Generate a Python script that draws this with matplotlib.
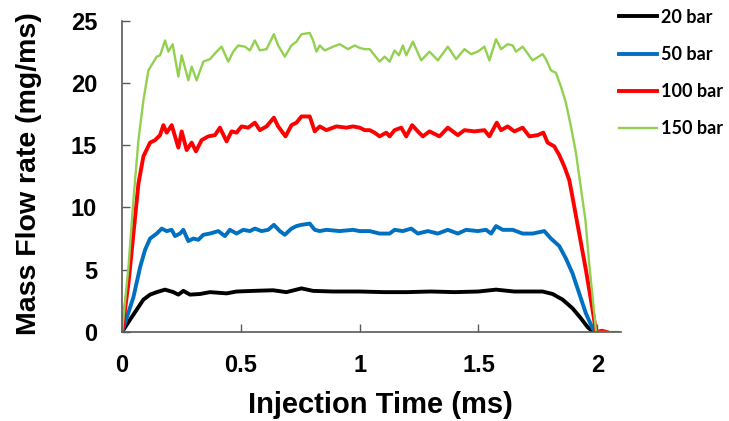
import matplotlib
matplotlib.use("Agg")
import matplotlib.pyplot as plt

# values (time in ms, mass flow rate in mg/ms)
t_20 = [0.0, 0.034, 0.062, 0.09, 0.118, 0.146, 0.181, 0.216, 0.237, 0.258, 0.286, 0.328,
        0.37, 0.44, 0.482, 0.552, 0.636, 0.692, 0.755, 0.804, 0.888, 1.0, 1.1, 1.2, 1.3,
        1.4, 1.5, 1.574, 1.65, 1.77, 1.812, 1.854, 1.896, 1.931, 1.959, 1.98, 1.995]
q_20 = [0.0, 1.0, 1.8, 2.6, 3.0, 3.2, 3.4, 3.2, 3.0, 3.3, 3.0, 3.05,
        3.2, 3.1, 3.25, 3.3, 3.35, 3.2, 3.5, 3.3, 3.25, 3.25, 3.2, 3.2, 3.25,
        3.2, 3.25, 3.4, 3.25, 3.25, 3.05, 2.6, 1.9, 1.1, 0.4, 0.05, 0.0]

t_50 = [0.0, 0.048, 0.076, 0.097, 0.118, 0.146, 0.167, 0.188, 0.209, 0.223, 0.244, 0.258,
        0.279, 0.3, 0.321, 0.342, 0.37, 0.405, 0.433, 0.454, 0.482, 0.51, 0.538, 0.559,
        0.587, 0.615, 0.639, 0.664, 0.685, 0.713, 0.734, 0.755, 0.79, 0.811, 0.832, 0.86,
        0.916, 0.972, 1.0, 1.042, 1.084, 1.126, 1.147, 1.182, 1.217, 1.245, 1.287, 1.329,
        1.371, 1.413, 1.448, 1.497, 1.532, 1.553, 1.574, 1.602, 1.644, 1.686, 1.728, 1.777,
        1.805, 1.84, 1.868, 1.896, 1.924, 1.952, 1.98, 1.995]
q_50 = [0.0, 2.8, 5.2, 6.6, 7.5, 7.9, 8.3, 8.1, 8.2, 7.7, 7.9, 8.2,
        7.3, 7.5, 7.4, 7.8, 7.9, 8.1, 7.7, 8.2, 7.9, 8.2, 8.1, 8.3,
        8.1, 8.2, 8.6, 8.1, 7.8, 8.3, 8.5, 8.6, 8.7, 8.2, 8.1, 8.2,
        8.1, 8.2, 8.1, 8.1, 7.9, 7.9, 8.2, 8.1, 8.3, 7.9, 8.1, 7.9,
        8.2, 7.9, 8.2, 8.1, 8.2, 7.9, 8.5, 8.2, 8.2, 7.9, 7.9, 8.1,
        7.5, 6.9, 5.9, 4.7, 3.1, 1.5, 0.3, 0.0]

t_100 = [0.0, 0.027, 0.048, 0.069, 0.09, 0.118, 0.139, 0.16, 0.174, 0.188, 0.209, 0.223,
         0.237, 0.251, 0.272, 0.293, 0.311, 0.335, 0.363, 0.391, 0.412, 0.44, 0.461, 0.482,
         0.503, 0.531, 0.559, 0.58, 0.608, 0.639, 0.657, 0.688, 0.713, 0.734, 0.755, 0.79,
         0.811, 0.832, 0.86, 0.902, 0.944, 0.972, 1.0, 1.021, 1.042, 1.063, 1.084, 1.112,
         1.126, 1.147, 1.175, 1.196, 1.221, 1.245, 1.266, 1.294, 1.336, 1.371, 1.413, 1.441,
         1.483, 1.525, 1.546, 1.577, 1.595, 1.623, 1.651, 1.686, 1.714, 1.749, 1.773, 1.791,
         1.819, 1.84, 1.861, 1.882, 1.896, 1.924, 1.952, 1.98, 1.995, 2.02, 2.04]
q_100 = [0.0, 3.9, 7.9, 11.9, 14.1, 15.2, 15.4, 15.8, 16.6, 16.0, 16.6, 15.7,
         14.8, 16.1, 14.6, 15.2, 14.5, 15.4, 15.7, 15.8, 16.4, 15.3, 16.1, 16.0,
         16.5, 16.4, 16.8, 16.2, 16.5, 17.2, 16.5, 15.7, 16.6, 16.8, 17.3, 17.3,
         16.1, 16.5, 16.2, 16.5, 16.4, 16.5, 16.4, 16.2, 16.2, 16.0, 15.7, 16.0,
         15.7, 16.2, 16.4, 15.7, 16.6, 16.1, 15.7, 16.1, 15.7, 16.4, 15.8, 16.2,
         16.1, 16.2, 15.7, 16.8, 16.2, 16.5, 16.1, 16.4, 15.7, 15.8, 16.0, 15.2,
         14.9, 14.2, 13.3, 12.2, 10.8, 7.9, 5.0, 1.8, 0.0, 0.1, 0.0]

t_150 = [0.0, 0.027, 0.048, 0.069, 0.09, 0.111, 0.146, 0.16, 0.181, 0.195, 0.213, 0.237,
         0.251, 0.279, 0.293, 0.314, 0.342, 0.37, 0.398, 0.419, 0.447, 0.468, 0.489, 0.517,
         0.538, 0.559, 0.58, 0.608, 0.639, 0.657, 0.685, 0.713, 0.734, 0.755, 0.79, 0.804,
         0.818, 0.832, 0.853, 0.888, 0.916, 0.951, 0.979, 1.0, 1.021, 1.042, 1.063, 1.084,
         1.105, 1.126, 1.147, 1.165, 1.182, 1.196, 1.224, 1.238, 1.259, 1.294, 1.329, 1.371,
         1.406, 1.441, 1.469, 1.497, 1.525, 1.546, 1.574, 1.595, 1.623, 1.644, 1.658, 1.686,
         1.728, 1.77, 1.784, 1.805, 1.826, 1.847, 1.868, 1.889, 1.91, 1.93, 1.95, 1.966,
         1.983, 1.995, 2.09]
q_150 = [0.0, 5.2, 10.6, 15.4, 18.6, 21.0, 22.1, 22.2, 23.4, 22.5, 23.1, 20.5,
         22.2, 20.2, 21.3, 20.2, 21.7, 21.9, 22.5, 22.9, 21.7, 22.5, 23.0, 22.9,
         22.6, 23.4, 22.6, 22.7, 23.9, 23.0, 22.1, 23.0, 23.3, 23.9, 24.0, 23.4,
         22.5, 23.0, 22.6, 22.9, 23.1, 22.7, 23.0, 22.8, 22.7, 22.7, 22.2, 21.7,
         22.1, 21.7, 22.6, 22.2, 23.0, 22.2, 23.3, 22.7, 21.8, 22.5, 21.8, 22.9,
         21.9, 22.7, 22.3, 22.5, 22.9, 21.8, 23.5, 22.7, 23.1, 23.0, 22.5, 22.9,
         21.8, 22.3, 21.9, 21.0, 20.8, 19.7, 18.4, 16.5, 14.4, 11.7, 9.0, 5.5,
         2.3, 0.0, 0.0]

series = [
    ("20 bar", t_20, q_20, "#000000", 2.8),
    ("50 bar", t_50, q_50, "#0070C0", 2.8),
    ("100 bar", t_100, q_100, "#FF0000", 2.8),
    ("150 bar", t_150, q_150, "#92D050", 1.7),
]

fig = plt.figure(figsize=(7.29, 4.21), dpi=100)
ax = fig.add_axes([0.1674, 0.2114, 0.6845, 0.7399])

for label, t, q, color, lw in series:
    ax.plot(t, q, color=color, lw=lw, label=label, solid_joinstyle="round")

ax.set_xlim(0, 2.1)
ax.set_ylim(0, 25)
ax.set_xticks([0, 0.5, 1, 1.5, 2])
ax.set_xticklabels(["0", "0.5", "1", "1.5", "2"])
ax.set_yticks([0, 5, 10, 15, 20, 25])

for side in ["top", "right"]:
    ax.spines[side].set_visible(False)
for side in ["left", "bottom"]:
    ax.spines[side].set_color("#595959")
    ax.spines[side].set_linewidth(1.2)

tick_font = {"family": "Liberation Sans", "weight": "bold", "size": 17}
ax.tick_params(axis="both", direction="in", length=5.5, width=1, color="#595959")
ax.tick_params(axis="x", pad=16)
ax.tick_params(axis="y", pad=18)
for lab in ax.get_xticklabels() + ax.get_yticklabels():
    lab.set_fontproperties(tick_font)

ax.set_xlabel("Injection Time (ms)", fontfamily="Liberation Sans", fontweight="bold", fontsize=21)
ax.set_ylabel("Mass Flow rate (mg/ms)", fontfamily="Liberation Sans", fontweight="bold", fontsize=20.5)
ax.xaxis.set_label_coords(0.517, -0.188)
ax.yaxis.set_label_coords(-0.16, 0.51)

ax.legend(loc="upper left", bbox_to_anchor=(0.827, 1.018), bbox_transform=fig.transFigure,
          frameon=False, handlelength=2.1, handletextpad=0.2, labelspacing=1.12,
          prop={"family": "Lato", "weight": "bold", "size": 13})

fig.savefig("out.png", dpi=100)
